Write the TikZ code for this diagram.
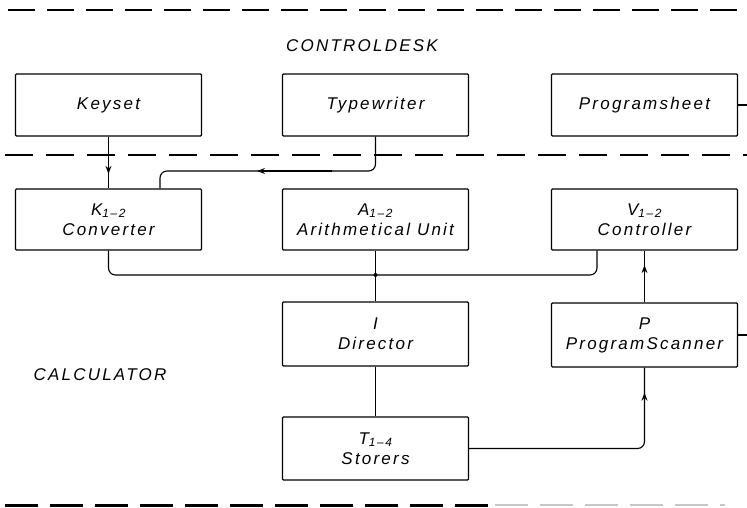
\documentclass[tikz,border=0pt]{standalone}
\usepackage{fontspec}
\newfontfamily\lettering[LetterSpace=13]{Liberation Sans}
\usetikzlibrary{calc,arrows.meta}
\tikzset{
  blk/.style={draw, line width=1.2pt, rounded corners=1pt, minimum width=186pt, minimum height=62pt, inner sep=0pt, align=center},
  conn/.style={line width=1.1pt, rounded corners=7pt},
  lbl/.style={font=\lettering\itshape\fontsize{17}{20}\selectfont},
  sep/.style={line width=1.2pt, dash pattern=on 27pt off 12pt},
  tip/.style={line width=1.1pt, -{Stealth[length=8pt,width=6pt,open,line width=0.9pt]}},
  dot/.style={circle, fill, inner sep=0pt, minimum size=4pt}
}
\begin{document}
\begin{tikzpicture}[x=1pt,y=-1pt, every node/.append style={lbl}]
\useasboundingbox (0,0) rectangle (747,508);
% separators
\draw[sep] (8,10) -- (747,10);
\draw[sep, dash pattern=on 28pt off 13pt] (5,155) -- (747,155);
\draw[line width=3pt, dash pattern=on 33pt off 12pt] (5,505) -- (490,505);
\draw[line width=2pt, gray!45, dash pattern=on 33pt off 12pt] (495,505) -- (725,505);
% region labels
\node (cd) at (362,46) {CONTROLDESK};
\node (calc) at (100,375) {CALCULATOR};
% boxes
\node[blk] (keyset) at (108.5,105) {Keyset};
\node[blk] (tw) at (375.5,105) {Typewriter};
\node[blk] (ps) at (644.5,105) {Programsheet};
\node[blk, minimum height=61pt] (K) at (108.5,219.5) {K\textsubscript{1–2}\\Converter};
\node[blk, minimum height=61pt] (A) at (375.5,219.5) {A\textsubscript{1–2}\\Arithmetical Unit};
\node[blk, minimum height=61pt] (V) at (644.5,219.5) {V\textsubscript{1–2}\\Controller};
\node[blk, minimum height=64pt] (I) at (375.5,334) {I\\Director};
\node[blk, minimum height=64pt] (P) at (644.5,335) {P\\ProgramScanner};
\node[blk, minimum height=63pt] (T) at (375.5,448.5) {T\textsubscript{1–4}\\Storers};
% junction and helper coordinates
\node[dot] (J) at (375.5,275) {};
\coordinate (twbend) at (160,171);
\coordinate (psend) at (747,105);
\coordinate (pend) at (747,335);
% connectors
\draw[conn] (keyset.south) -- (K.north);
\draw[tip] (keyset.south) -- ($(keyset.south)!0.72!(K.north)$);
\draw[conn] (tw.south) |- (twbend) -- ([xshift=51.5pt]K.north);
\draw[tip] ($(tw.south |- twbend)!0.2!(twbend)$) -- ($(tw.south |- twbend)!0.55!(twbend)$);
\draw[conn] (K.south) |- (J.center) -| ([xshift=-47.5pt]V.south);
\draw[conn] (A.south) -- (J.center);
\draw[conn] (J.center) -- (I.north);
\draw[conn] (P.north) -- (P.north |- V.south);
\draw[tip] (P.north) -- ($(P.north)!0.72!(P.north |- V.south)$);
\draw[conn] (I.south) -- (T.north);
\draw[conn] (T.east) -| (P.south);
\draw[tip] ($(P.south)!0.6!(P.south |- T.east)$) -- ($(P.south)!0.31!(P.south |- T.east)$);
\draw[conn] (ps.east) -- (psend);
\draw[conn] (P.east) -- (pend);
\end{tikzpicture}
\end{document}
